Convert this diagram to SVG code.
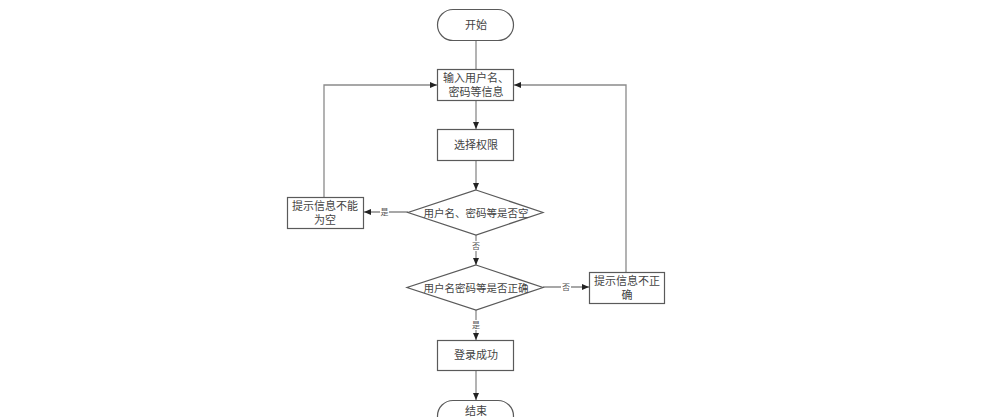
<svg xmlns="http://www.w3.org/2000/svg" width="990" height="417" viewBox="0 0 990 417">
<defs>
<style>
.n{fill:#fff;stroke:#5a5a5a;stroke-width:1.2}
.t{font-family:"Liberation Serif","Noto Sans CJK SC",serif;font-size:11px;fill:#444;text-anchor:middle}
.d{font-size:10.5px}
.l{font-family:"Liberation Serif","Noto Sans CJK SC",serif;font-size:8px;fill:#555;text-anchor:middle}
.c{fill:none;stroke:#8a8a8a;stroke-width:1.3}
</style>
<marker id="a" markerWidth="8" markerHeight="8" refX="7" refY="4" orient="auto" markerUnits="userSpaceOnUse">
<path d="M0,1 L7,4 L0,7 Z" fill="#222"/>
</marker>
</defs>
<rect width="990" height="417" fill="#fff"/>
<g id="connectors">
<path class="c" d="M476,40 V69"/>
<path class="c" d="M476,100 V129" marker-end="url(#a)"/>
<path class="c" d="M476,160 V190" marker-end="url(#a)"/>
<path class="c" d="M408,212 H364" marker-end="url(#a)"/>
<path class="c" d="M324,197 V85 H437" marker-end="url(#a)"/>
<path class="c" d="M476,235 V265" marker-end="url(#a)"/>
<path class="c" d="M543,287 H589" marker-end="url(#a)"/>
<path class="c" d="M626,272 V85 H514" marker-end="url(#a)"/>
<path class="c" d="M476,310 V340" marker-end="url(#a)"/>
<path class="c" d="M476,370 V400" marker-end="url(#a)"/>
<rect x="380" y="207" width="9" height="10" fill="#fff"/>
<text class="l" x="384.5" y="215">是</text>
<rect x="471" y="241" width="10" height="10" fill="#fff"/>
<text class="l" x="476" y="249">否</text>
<rect x="561" y="282" width="10" height="10" fill="#fff"/>
<text class="l" x="566" y="290">否</text>
<rect x="471" y="320" width="10" height="10" fill="#fff"/>
<text class="l" x="476" y="328">是</text>
</g>
<g id="start">
<rect class="n" x="437.5" y="9.5" width="76" height="31" rx="15.5"/>
<text class="t" x="476" y="29">开始</text>
</g>
<g id="input">
<rect class="n" x="437.5" y="69.5" width="76" height="31"/>
<text class="t" x="476" y="82">输入用户名、</text>
<text class="t" x="476" y="96">密码等信息</text>
</g>
<g id="perm">
<rect class="n" x="437.5" y="129.5" width="76" height="31"/>
<text class="t" x="476" y="149">选择权限</text>
</g>
<g id="check-empty">
<polygon class="n" points="476,190 543,212.5 476,235 408,212.5"/>
<text class="t d" x="476" y="216.5">用户名、密码等是否空</text>
</g>
<g id="empty-msg">
<rect class="n" x="287.5" y="197.5" width="76" height="31"/>
<text class="t" x="325" y="210">提示信息不能</text>
<text class="t" x="325" y="224">为空</text>
</g>
<g id="check-correct">
<polygon class="n" points="476,265 543,287.5 476,310 407,287.5"/>
<text class="t d" x="476" y="291.5">用户名密码等是否正确</text>
</g>
<g id="wrong-msg">
<rect class="n" x="589.5" y="272.5" width="75" height="31"/>
<text class="t" x="627" y="285">提示信息不正</text>
<text class="t" x="627" y="299">确</text>
</g>
<g id="success">
<rect class="n" x="437.5" y="340.5" width="76" height="30"/>
<text class="t" x="476" y="359">登录成功</text>
</g>
<g id="end">
<rect class="n" x="437.5" y="400.5" width="76" height="31" rx="15.5"/>
<text class="t" x="476" y="415">结束</text>
</g>
</svg>
